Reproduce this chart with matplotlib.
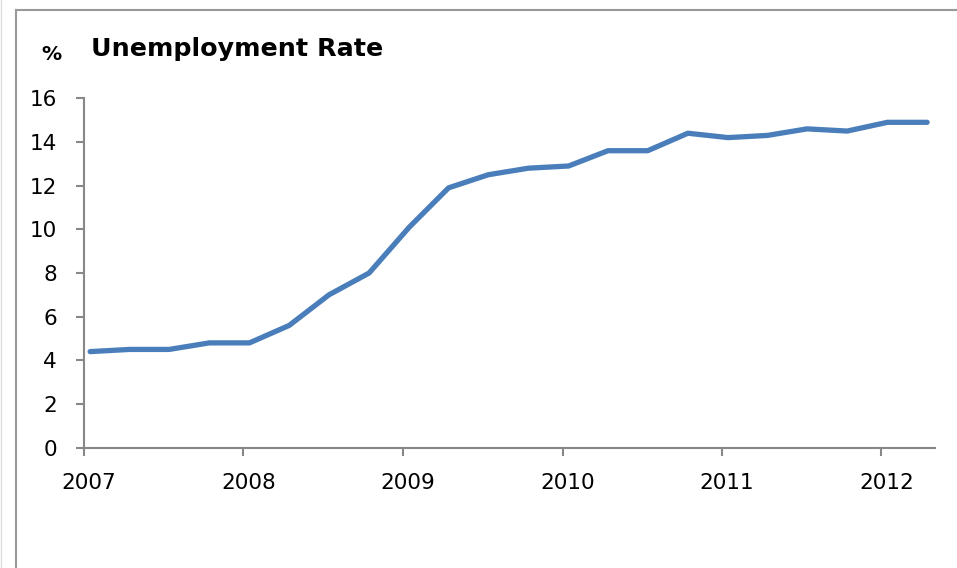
import matplotlib
matplotlib.use("Agg")
import matplotlib.pyplot as plt
import matplotlib.transforms as mtransforms
from matplotlib.lines import Line2D
from datetime import datetime

# Quarterly observations (mid-month of quarter start)
years = [2007, 2007, 2007, 2007, 2008, 2008, 2008, 2008, 2009, 2009, 2009, 2009,
         2010, 2010, 2010, 2010, 2011, 2011, 2011, 2011, 2012, 2012]
months = [1, 4, 7, 10] * 5 + [1, 4]
rate = [4.4, 4.5, 4.5, 4.8, 4.8, 5.6, 7.0, 8.0, 10.1, 11.9, 12.5, 12.8,
        12.9, 13.6, 13.6, 14.4, 14.2, 14.3, 14.6, 14.5, 14.9, 14.9]
tick_years = [2007, 2008, 2009, 2010, 2011, 2012]
yticks = [0, 2, 4, 6, 8, 10, 12, 14, 16]

dates = [datetime(y, m, 15) for y, m in zip(years, months)]

plt.rcParams['font.family'] = ['DejaVu Sans']

fig = plt.figure(figsize=(9.57, 5.68), dpi=100)
ax = fig.add_axes([84 / 957, 120.3 / 568, (935 - 84) / 957, (447.7 - 98.3) / 568])

ax.plot(dates, rate, color='#4a7ebb', linewidth=3.8, solid_capstyle='round',
        solid_joinstyle='round')

ax.set_ylim(0, 16)
ax.set_yticks(yticks)
ax.set_xlim(datetime(2007, 1, 1), datetime(2012, 5, 3))
ax.set_xticks([datetime(y, 1, 1) for y in tick_years])
ax.set_xticklabels([str(y) for y in tick_years])

for s in ['top', 'right']:
    ax.spines[s].set_visible(False)
for s in ['left', 'bottom']:
    ax.spines[s].set_color('#888888')
    ax.spines[s].set_linewidth(1.5)
ax.tick_params(axis='both', colors='#888888', width=1.5, length=5.5,
               labelcolor='black', labelsize=15.5)
ax.tick_params(axis='y', direction='out', pad=14)
ax.tick_params(axis='x', direction='out', pad=12.5)

offset = mtransforms.ScaledTranslation(5 / 100, 0, fig.dpi_scale_trans)
for lbl in ax.get_xticklabels():
    lbl.set_transform(lbl.get_transform() + offset)

fig.text(91 / 957, 1 - 49 / 568, 'Unemployment Rate', fontsize=18.3,
         fontweight='bold', ha='left', va='center')
fig.text(51 / 957, 1 - 54 / 568, '%', fontsize=14.5, fontweight='bold',
         ha='center', va='center')

# chart frame
fig.add_artist(Line2D([15.5 / 957, 15.5 / 957], [0, 1 - 10 / 568],
                      transform=fig.transFigure, color='#999999', lw=1.5))
fig.add_artist(Line2D([15.5 / 957, 1], [1 - 10 / 568, 1 - 10 / 568],
                      transform=fig.transFigure, color='#999999', lw=1.5))
fig.add_artist(Line2D([1 / 957, 1 / 957], [0, 1],
                      transform=fig.transFigure, color='#dddddd', lw=1))

fig.savefig('out.png', dpi=100)
